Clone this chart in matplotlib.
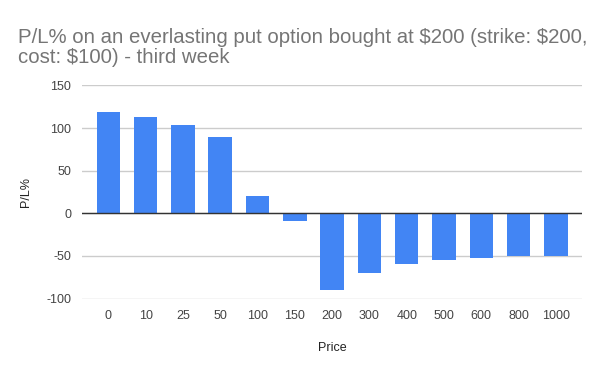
import numpy as np
import matplotlib.pyplot as plt

plt.rcParams['font.family'] = ['Liberation Sans', 'DejaVu Sans']
plt.rcParams['axes.unicode_minus'] = False

prices = ["0", "10", "25", "50", "100", "150", "200", "300", "400", "500", "600", "800", "1000"]
pl_pct = [119, 113, 104, 90, 20, -9, -90, -70, -60, -55, -53, -50, -50]

fig = plt.figure(figsize=(6, 3.71), dpi=100)
ax = fig.add_axes([0.137, 0.194, 0.833, 0.577])

x = np.arange(len(prices))
ax.bar(x, pl_pct, width=0.63, color="#4285f4", zorder=3)
ax.axhline(0, color="#333333", linewidth=1, zorder=4)

ax.set_xlim(-0.7, len(prices) - 0.3)
ax.set_ylim(-100.6, 150.6)
ax.set_yticks([-100, -50, 0, 50, 100, 150])
ax.set_xticks(x)
ax.set_xticklabels(prices)
ax.grid(axis="y", color="#cccccc", linewidth=1, zorder=0)
for s in ax.spines.values():
    s.set_visible(False)
ax.tick_params(length=0, labelsize=9, labelcolor="#444444", pad=8)

ax.set_xlabel("Price", fontsize=9, color="#222222", labelpad=14)
ax.set_ylabel("P/L%", fontsize=9, color="#222222", labelpad=10)

fig.text(0.03, 0.925, "P/L% on an everlasting put option bought at \\$200 (strike: \\$200,\ncost: \\$100) - third week",
         fontsize=14.7, color="#757575", va="top", ha="left", linespacing=1.05)

fig.savefig("out.png")
